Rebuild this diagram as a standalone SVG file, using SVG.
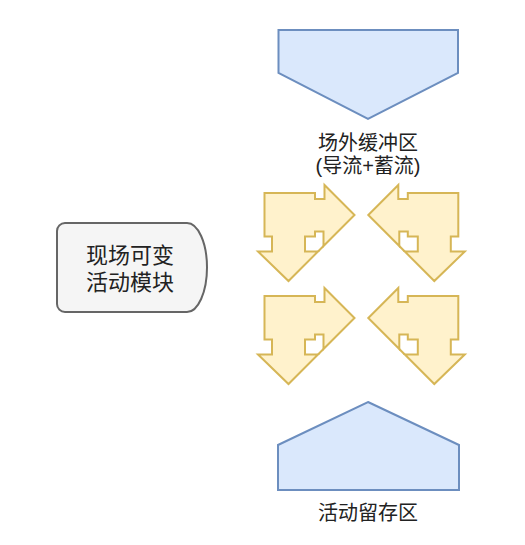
<svg xmlns="http://www.w3.org/2000/svg" xmlns:xlink="http://www.w3.org/1999/xlink" width="525" height="545" viewBox="0 0 525 545">
  <style>
    .zone { fill: #dae8fc; stroke: #6c8ebf; stroke-width: 2; stroke-linejoin: miter; }
    .arrow { fill: #fff2cc; stroke: #d6b656; stroke-width: 2; stroke-linejoin: miter; }
    .arrowline { fill: none; stroke: #d6b656; stroke-width: 2; }
    .module { fill: #f5f5f5; stroke: #666666; stroke-width: 2; }
    .label { font-family: "Liberation Sans", "Noto Sans CJK SC", sans-serif; font-size: 20px; fill: #222222; text-anchor: middle; }
    .mlabel { font-family: "Liberation Sans", "Noto Sans CJK SC", sans-serif; font-size: 22px; fill: #222222; text-anchor: middle; }
  </style>
  <defs>
    <g id="bentArrow">
      <path class="arrow" d="M264.5,193 H315 V199 H324.5 V185 L354.5,215 L323.5,246 V231.5 H315 V236.5 H305 V251.5 H318 L288.5,281 L258,251.5 H272 V236.5 H264.5 Z"/>
      <line class="arrowline" x1="323.5" y1="246" x2="318" y2="251.5"/>
    </g>
  </defs>
  <rect width="525" height="545" fill="#ffffff"/>

  <g id="module">
    <path class="module" d="M65,223 H187 A20,44.5 0 0 1 187,312 H65 A8,8 0 0 1 57,304 V231 A8,8 0 0 1 65,223 Z"/>
    <text class="mlabel" x="130" y="263">现场可变</text>
    <text class="mlabel" x="130" y="290">活动模块</text>
  </g>

  <g id="buffer-zone">
    <polygon class="zone" points="278.5,30 458,30 458,73 368,119 278.5,73"/>
    <text class="label" x="368" y="150">场外缓冲区</text>
    <text class="label" x="368" y="173">(导流+蓄流)</text>
  </g>

  <g id="retention-zone">
    <polygon class="zone" points="368,402 459,445 459,490 278,490 278,445"/>
    <text class="label" x="368" y="520">活动留存区</text>
  </g>

  <g id="arrow-top-left">
    <use xlink:href="#bentArrow"/>
  </g>
  <g id="arrow-top-right">
    <use xlink:href="#bentArrow" transform="translate(722.8,0) scale(-1,1)"/>
  </g>
  <g id="arrow-bottom-left">
    <use xlink:href="#bentArrow" transform="translate(0,103)"/>
  </g>
  <g id="arrow-bottom-right">
    <use xlink:href="#bentArrow" transform="translate(722.8,103) scale(-1,1)"/>
  </g>

  <g id="connectors"></g>
</svg>
